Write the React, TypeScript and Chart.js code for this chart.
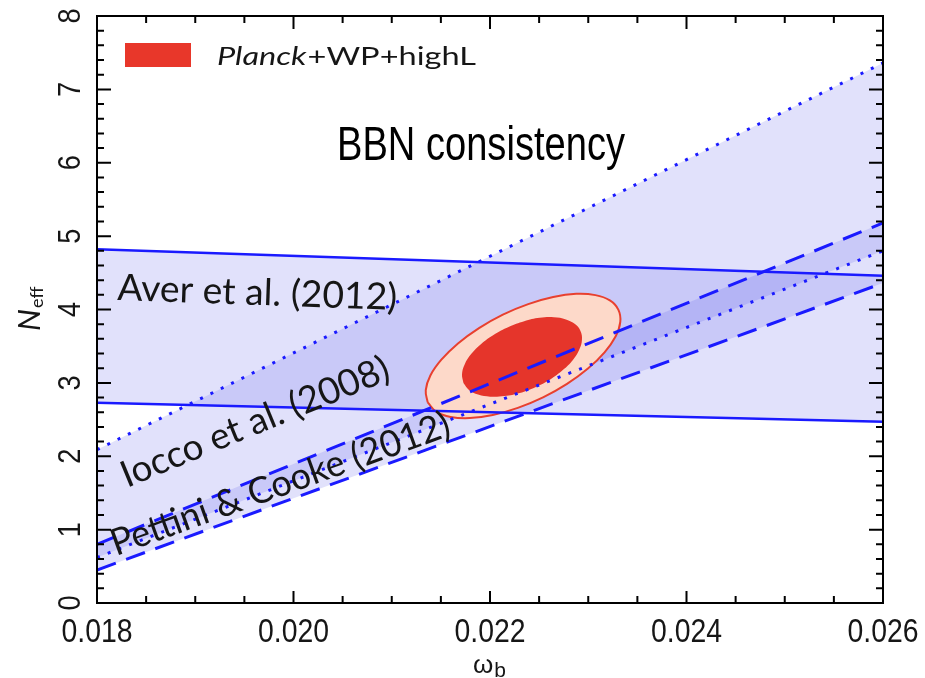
import React, { useEffect, useRef } from 'react';
import { Chart, registerables } from 'chart.js';

Chart.register(...registerables);

// ---- axes ----
const X_MIN = 0.018;
const X_MAX = 0.026;
const Y_MIN = 0;
const Y_MAX = 8;
const X_TICKS = [0.018, 0.02, 0.022, 0.024, 0.026];
const X_TICK_LABELS = ['0.018', '0.020', '0.022', '0.024', '0.026'];
const Y_TICKS = [0, 1, 2, 3, 4, 5, 6, 7, 8];
const Y_TICK_LABELS = ['0', '1', '2', '3', '4', '5', '6', '7', '8'];
const X_MINOR_STEP = 0.0005;
const Y_MINOR_STEP = 0.2;

// ---- bands (values at x = 0.018 and x = 0.026) ----
const BAND_X = [0.018, 0.026];
const AVER_UPPER = [4.82, 4.46];
const AVER_LOWER = [2.73, 2.47];
const IOCCO_UPPER = [2.09, 7.36];
const IOCCO_LOWER = [0.62, 4.8];
const PETTINI_UPPER = [0.8, 5.18];
const PETTINI_LOWER = [0.45, 4.36];

// ---- Planck+WP+highL contours (traced outlines) ----
const OUTER_X = [
  0.021366, 0.021346, 0.021393, 0.021505, 0.021674, 0.021888, 0.022131, 0.022389, 0.022643, 0.022877, 0.023073,
  0.02322, 0.023306, 0.023326, 0.023278, 0.023166, 0.022997, 0.022784, 0.02254, 0.022283, 0.022028, 0.021794,
  0.021599, 0.021451, 0.021366,
];
const OUTER_Y = [
  2.734, 2.9, 3.101, 3.316, 3.538, 3.747, 3.931, 4.074, 4.17, 4.213, 4.196, 4.124, 3.999, 3.832, 3.632, 3.417,
  3.195, 2.986, 2.802, 2.659, 2.562, 2.52, 2.536, 2.609, 2.734,
];
const INNER_X = [
  0.02173, 0.021715, 0.021742, 0.021808, 0.02191, 0.022039, 0.022189, 0.022348, 0.022505, 0.02265, 0.022773,
  0.022865, 0.022921, 0.022936, 0.022909, 0.022844, 0.022741, 0.022613, 0.022462, 0.022303, 0.022147, 0.022001,
  0.021879, 0.021786, 0.02173,
];
const INNER_Y = [
  2.998, 3.117, 3.252, 3.392, 3.531, 3.657, 3.763, 3.841, 3.886, 3.894, 3.865, 3.801, 3.707, 3.588, 3.454, 3.313,
  3.174, 3.047, 2.942, 2.863, 2.82, 2.812, 2.84, 2.904, 2.998,
];

const LEGEND_LABEL_ITALIC = 'Planck';
const LEGEND_LABEL_REST = '+WP+highL';
const TITLE = 'BBN consistency';
const AVER_LABEL = 'Aver et al. (2012)';
const IOCCO_LABEL = 'Iocco et al. (2008)';
const PETTINI_LABEL = 'Pettini & Cooke (2012)';

const BLUE = '#1a1aff';
const BAND_FILL = 'rgba(90, 90, 235, 0.18)';
const RED = '#e5352b';
const PEACH = '#fdd9c9';
const TEXT = '#161616';
const SANS = '"Liberation Sans", Arial, sans-serif';
const LABEL_FONT = 'Lato, "Open Sans", sans-serif';

const pts = (xs: number[], ys: number[]) => xs.map((x, i) => ({ x, y: ys[i] }));

function drawText(
  ctx: CanvasRenderingContext2D,
  text: string,
  x: number,
  y: number,
  font: string,
  opts: { width?: number; sx?: number; angle?: number; align?: CanvasTextAlign; color?: string } = {}
) {
  ctx.save();
  ctx.font = font;
  const w = ctx.measureText(text).width;
  const sx = opts.width ? opts.width / w : opts.sx ?? 1;
  ctx.translate(x, y);
  ctx.rotate(opts.angle ?? 0);
  ctx.scale(sx, 1);
  ctx.textAlign = opts.align ?? 'left';
  ctx.textBaseline = 'alphabetic';
  ctx.fillStyle = opts.color ?? TEXT;
  ctx.fillText(text, 0, 0);
  ctx.restore();
  return w * sx;
}

const decorPlugin = {
  id: 'decor',
  afterDatasetsDraw(chart: any) {
    const ctx: CanvasRenderingContext2D = chart.ctx;
    // band labels
    drawText(ctx, AVER_LABEL, 117, 300, `37px ${LABEL_FONT}`, { width: 280, angle: (2 * Math.PI) / 180 });
    drawText(ctx, IOCCO_LABEL, 127, 488, `37px ${LABEL_FONT}`, { width: 287, angle: (-22.4 * Math.PI) / 180 });
    drawText(ctx, PETTINI_LABEL, 116, 556, `37px ${LABEL_FONT}`, { width: 358, angle: (-19.8 * Math.PI) / 180 });
    // title
    drawText(ctx, TITLE, 337, 160, `49px ${SANS}`, { width: 288, color: '#000' });
    // legend
    ctx.save();
    ctx.fillStyle = '#e8372a';
    ctx.fillRect(125, 43, 66, 24);
    ctx.restore();
    ctx.save();
    ctx.font = `italic 25px ${LABEL_FONT}`;
    const w1 = ctx.measureText(LEGEND_LABEL_ITALIC).width;
    ctx.font = `25px ${LABEL_FONT}`;
    const w2 = ctx.measureText(LEGEND_LABEL_REST).width;
    ctx.restore();
    const s = 258 / (w1 + w2);
    drawText(ctx, LEGEND_LABEL_ITALIC, 217, 65, `italic 25px ${LABEL_FONT}`, { sx: s });
    drawText(ctx, LEGEND_LABEL_REST, 217 + w1 * s + 1, 65, `25px ${LABEL_FONT}`, { sx: s });
  },
  afterDraw(chart: any) {
    const ctx: CanvasRenderingContext2D = chart.ctx;
    const { left, right, top, bottom } = chart.chartArea;
    const xs = chart.scales.x;
    const ys = chart.scales.y;
    ctx.save();
    ctx.strokeStyle = '#000';
    ctx.lineWidth = 2;
    ctx.strokeRect(left, top, right - left, bottom - top);
    ctx.beginPath();
    const nx = Math.round((X_MAX - X_MIN) / X_MINOR_STEP);
    for (let i = 0; i <= nx; i++) {
      const v = X_MIN + i * X_MINOR_STEP;
      const px = xs.getPixelForValue(v);
      const major = i % 4 === 0;
      ctx.moveTo(px, bottom);
      ctx.lineTo(px, bottom - (major ? 12 : 7));
      ctx.moveTo(px, top);
      ctx.lineTo(px, top + (major ? 13 : 7));
    }
    const ny = Math.round((Y_MAX - Y_MIN) / Y_MINOR_STEP);
    for (let i = 0; i <= ny; i++) {
      const v = Y_MIN + i * Y_MINOR_STEP;
      const py = ys.getPixelForValue(v);
      const major = i % 5 === 0;
      ctx.moveTo(left, py);
      ctx.lineTo(left + (major ? 14 : 7), py);
      ctx.moveTo(right, py);
      ctx.lineTo(right - (major ? 14 : 7), py);
    }
    ctx.stroke();
    ctx.restore();

    // tick labels
    X_TICKS.forEach((v, i) => {
      drawText(ctx, X_TICK_LABELS[i], xs.getPixelForValue(v), 642, `33px ${SANS}`, { sx: 0.86, align: 'center' });
    });
    Y_TICKS.forEach((v, i) => {
      drawText(ctx, Y_TICK_LABELS[i], 80, ys.getPixelForValue(v), `32px ${SANS}`, {
        sx: 0.85,
        align: 'center',
        angle: -Math.PI / 2,
      });
    });

    // axis titles
    const nW = drawText(ctx, 'N', 40, 331, `italic 31px ${LABEL_FONT}`, { angle: -Math.PI / 2 });
    drawText(ctx, 'eff', 43, 331 - nW - 1, `18px ${LABEL_FONT}`, { angle: -Math.PI / 2 });
    const wW = drawText(ctx, 'ω', 473, 673, `26px ${SANS}`, {});
    drawText(ctx, 'b', 473 + wW + 1, 677, `21px ${SANS}`, {});
  },
};

export default function App() {
  const ref = useRef<HTMLCanvasElement | null>(null);

  useEffect(() => {
    document.body.style.margin = '0';
    const canvas = ref.current;
    if (!canvas) return;

    const line = (data: any, color: string, dash: number[], width: number, extra: any = {}) => ({
      data,
      showLine: true,
      borderColor: color,
      borderWidth: width,
      borderDash: dash,
      pointRadius: 0,
      fill: false,
      tension: 0,
      order: 0,
      ...extra,
    });

    const chart = new Chart(canvas, {
      type: 'scatter',
      data: {
        datasets: [
          line(pts(BAND_X, AVER_UPPER), BLUE, [], 2.5), // 0
          line(pts(BAND_X, AVER_LOWER), BLUE, [], 2.5), // 1
          line(pts(BAND_X, IOCCO_UPPER), BLUE, [3, 8.5], 3), // 2
          line(pts(BAND_X, IOCCO_LOWER), BLUE, [3, 8.5], 3), // 3
          line(pts(BAND_X, PETTINI_UPPER), BLUE, [20, 11], 3), // 4
          line(pts(BAND_X, PETTINI_LOWER), BLUE, [20, 11], 3), // 5
          {
            // 6 inner contour
            data: pts(INNER_X, INNER_Y),
            showLine: true,
            borderColor: 'rgba(0,0,0,0)',
            borderWidth: 1,
            backgroundColor: RED,
            fill: 'shape',
            tension: 0.4,
            pointRadius: 0,
            order: 1,
          },
          {
            // 7 outer contour
            data: pts(OUTER_X, OUTER_Y),
            showLine: true,
            borderColor: '#e8402f',
            borderWidth: 2,
            backgroundColor: PEACH,
            fill: 'shape',
            tension: 0.4,
            pointRadius: 0,
            order: 2,
          },
          line(pts(BAND_X, AVER_UPPER), 'rgba(0,0,0,0)', [], 1, { fill: { target: 1 }, backgroundColor: BAND_FILL, order: 3 }),
          line(pts(BAND_X, IOCCO_UPPER), 'rgba(0,0,0,0)', [], 1, { fill: { target: 3 }, backgroundColor: BAND_FILL, order: 3 }),
          line(pts(BAND_X, PETTINI_UPPER), 'rgba(0,0,0,0)', [], 1, { fill: { target: 5 }, backgroundColor: BAND_FILL, order: 3 }),
        ],
      },
      options: {
        animation: false,
        responsive: false,
        devicePixelRatio: 1,
        layout: { padding: { top: 16, right: 42, left: 0, bottom: 0 } },
        plugins: {
          legend: { display: false },
          tooltip: { enabled: false },
          filler: { drawTime: 'beforeDatasetsDraw' },
        },
        scales: {
          x: {
            type: 'linear',
            min: X_MIN,
            max: X_MAX,
            ticks: { display: false },
            grid: { display: false },
            border: { display: false },
            afterFit: (s: any) => {
              s.height = 75;
            },
          },
          y: {
            type: 'linear',
            min: Y_MIN,
            max: Y_MAX,
            ticks: { display: false },
            grid: { display: false },
            border: { display: false },
            afterFit: (s: any) => {
              s.width = 97;
            },
          },
        },
      } as any,
      plugins: [decorPlugin],
    });

    return () => chart.destroy();
  }, []);

  return <canvas ref={ref} width={925} height={678} style={{ display: 'block' }} />;
}
